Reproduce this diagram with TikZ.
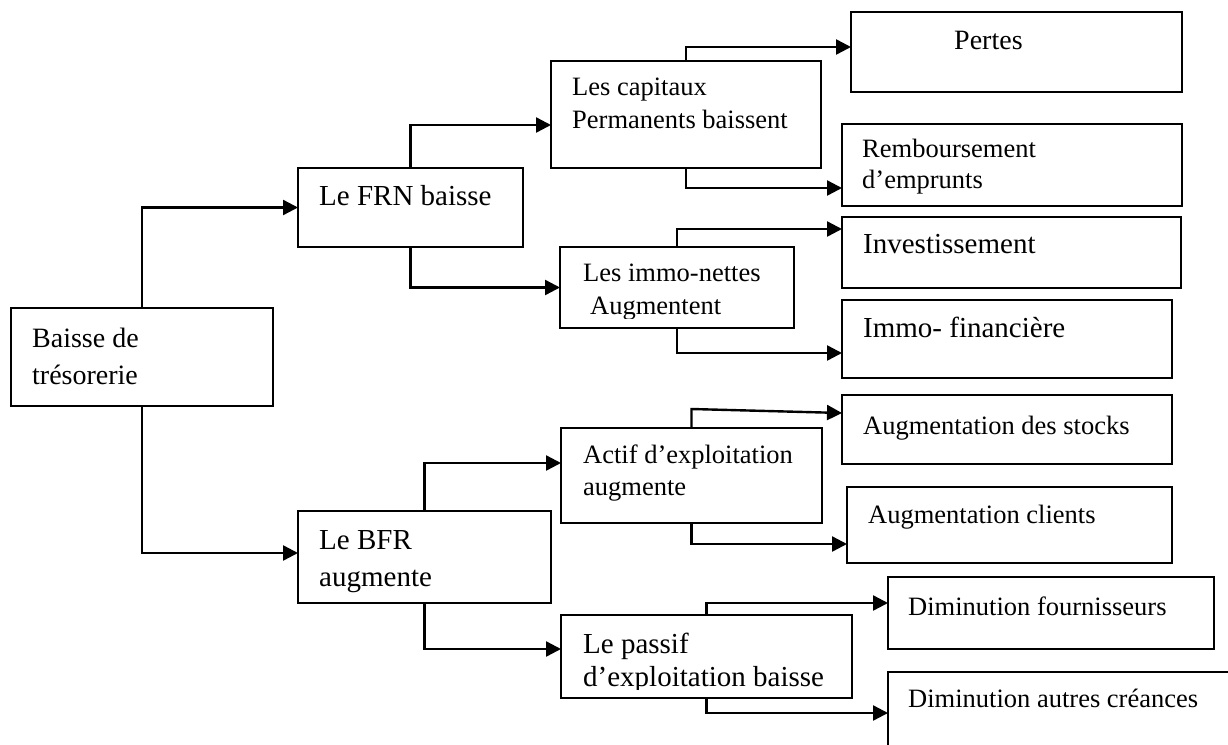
\documentclass[tikz,border=0pt]{standalone}
\usepackage{fontspec}
\setmainfont{Liberation Serif}
\usetikzlibrary{arrows.meta}
\tikzset{
  box/.style={draw, line width=2.2pt, inner sep=0pt, outer sep=0pt, anchor=north west},
  link/.style={line width=2.4pt, -{Triangle[length=15pt,width=15pt]}},
  txt/.style={inner sep=0pt, anchor=base west},
  large/.style={txt, font=\fontsize{29}{34}\selectfont},
  medium/.style={txt, font=\fontsize{28}{33}\selectfont},
  normal/.style={txt, font=\fontsize{26.5}{32}\selectfont},
}
\begin{document}
\begin{tikzpicture}[x=1pt,y=-1pt]
\useasboundingbox (0,0) rectangle (1228,744);

% boxes
\node[box, minimum width=262pt, minimum height=98pt]  (root)     at (11,308)  {};
\node[box, minimum width=225pt, minimum height=79pt]  (frn)      at (298,168) {};
\node[box, minimum width=253pt, minimum height=92pt]  (bfr)      at (298,511) {};
\node[box, minimum width=270pt, minimum height=107pt] (cap)      at (551,61)  {};
\node[box, minimum width=234pt, minimum height=81pt]  (immo)     at (560,247) {};
\node[box, minimum width=261pt, minimum height=95pt]  (actif)    at (561,428) {};
\node[box, minimum width=291pt, minimum height=83pt]  (passif)   at (561,615) {};
\node[box, minimum width=331pt, minimum height=80pt]  (pertes)   at (851,12)  {};
\node[box, minimum width=340pt, minimum height=82pt]  (remb)     at (842,124) {};
\node[box, minimum width=339pt, minimum height=71pt]  (inv)      at (842,217) {};
\node[box, minimum width=330pt, minimum height=78pt]  (immofin)  at (842,300) {};
\node[box, minimum width=330pt, minimum height=69pt]  (stocks)   at (842,395) {};
\node[box, minimum width=325pt, minimum height=76pt]  (clients)  at (847,487) {};
\node[box, minimum width=326pt, minimum height=72pt]  (fourn)    at (888,577) {};
% this last box runs past the right and bottom edges of the page
\node[box, minimum width=380pt, minimum height=100pt] (creances) at (888,672) {};

% labels
\node[medium] (root-a) at (32,347) {Baisse de};
\node[medium] (root-b) at (32,384) {trésorerie};
\node[large] (frn-a) at (319,205) {Le FRN baisse};
\node[large] (bfr-a) at (319,549) {Le BFR};
\node[large] (bfr-b) at (319,586) {augmente};
\node[normal] (cap-a) at (572,95) {Les capitaux};
\node[normal] (cap-b) at (572,128) {Permanents baissent};
\node[normal] (immo-a) at (583,281) {Les immo-nettes};
\begin{scope}
  \clip (immo.north west) rectangle (immo.east |- 0,318);
  \node[normal] (immo-b) at (590,314) {Augmentent};
\end{scope}
\node[normal] (actif-a) at (583,463) {Actif d’exploitation};
\node[normal] (actif-b) at (583,495) {augmente};
\node[large] (passif-a) at (583,653) {Le passif};
\begin{scope}
  \clip (passif.north west) rectangle (passif.east |- 0,689);
  \node[large] (passif-b) at (583,686) {d’exploitation baisse};
\end{scope}
\node[medium] (pertes-a) at (954,49) {Pertes};
\node[normal] (remb-a) at (862,157) {Remboursement};
\node[normal] (remb-b) at (862,188) {d’emprunts};
\node[large] (inv-a) at (863,253) {Investissement};
\node[large] (immofin-a) at (863,337) {Immo- financière};
\node[normal] (stocks-a) at (863,434) {Augmentation des stocks};
\node[normal] (clients-a) at (868,523) {Augmentation clients};
\node[normal] (fourn-a) at (908,615) {Diminution fournisseurs};
\node[normal] (creances-a) at (908,707) {Diminution autres créances};

% connectors
\draw[link] (root.north) |- (frn.west);
\draw[link] (root.south) |- (bfr.west |- 0,553);
\draw[link] (frn.north) |- (cap.west |- 0,125);
\draw[link] (frn.south) |- (immo.west);
\draw[link] (cap.north) |- (pertes.west |- 0,47);
\draw[link] (cap.south) |- (remb.west |- 0,188);
\draw[link] (immo.north) |- (inv.west |- 0,229);
\draw[link] (immo.south) |- (immofin.west |- 0,353);
\draw[link] (bfr.north) |- (actif.west |- 0,463);
\draw[link] (bfr.south) |- (passif.west |- 0,649);
\draw[link] (actif.north) -- (actif.north |- 0,409) -- (stocks.west |- 0,413);
\draw[link] (actif.south) |- (clients.west |- 0,544);
\draw[link] (passif.north) |- (fourn.west |- 0,603);
\draw[link] (passif.south) |- (creances.west |- 0,713);
\end{tikzpicture}
\end{document}
